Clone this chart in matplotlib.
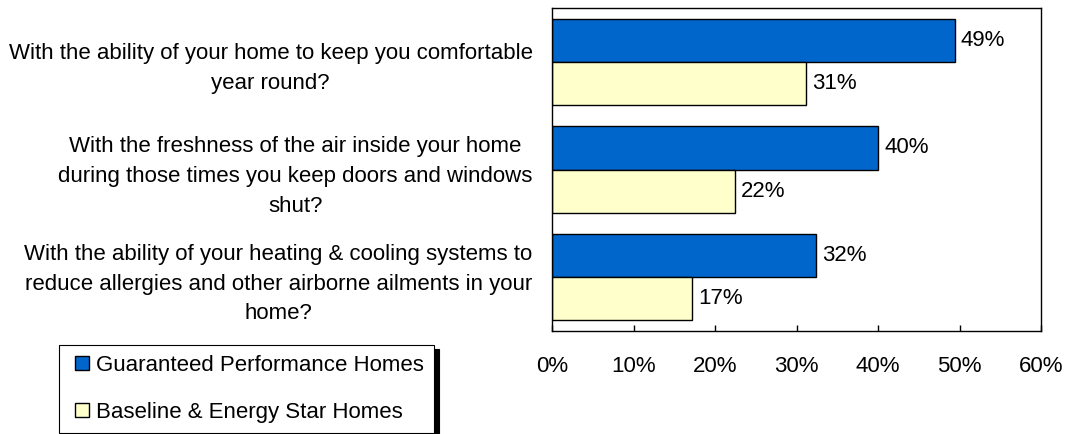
import matplotlib
matplotlib.use("Agg")
import numpy as np
import matplotlib.pyplot as plt
from matplotlib.lines import Line2D
from matplotlib.ticker import PercentFormatter

questions = [
    "With the ability of your home to keep you comfortable\nyear round?",
    "With the freshness of the air inside your home\nduring those times you keep doors and windows\nshut?",
    "With the ability of your heating & cooling systems to\nreduce allergies and other airborne ailments in your\nhome?",
]
series_names = ["Guaranteed Performance Homes", "Baseline & Energy Star Homes"]
guaranteed = [49.4, 40.0, 32.4]
baseline = [31.2, 22.4, 17.2]
x_ticks = [0, 10, 20, 30, 40, 50, 60]

blue = "#0066CC"
yellow = "#FFFFCC"

plt.rcParams["font.family"] = ["Liberation Sans", "DejaVu Sans"]
plt.rcParams["font.size"] = 16

fig = plt.figure(figsize=(10.79, 4.34), dpi=100)
ax = fig.add_axes([552 / 1079, 103 / 434, 489 / 1079, 323 / 434])

y = np.arange(len(questions))
h = 0.4
b1 = ax.barh(y - h / 2, guaranteed, height=h, color=blue, edgecolor="black", linewidth=1)
b2 = ax.barh(y + h / 2, baseline, height=h, color=yellow, edgecolor="black", linewidth=1)
ax.bar_label(b1, labels=[f"{v:.0f}%" for v in guaranteed], padding=4.5)
ax.bar_label(b2, labels=[f"{v:.0f}%" for v in baseline], padding=4.5)

ax.set_xlim(0, 60)
ax.set_ylim(len(questions) - 0.5, -0.5)
ax.set_xticks(x_ticks)
ax.xaxis.set_major_formatter(PercentFormatter(decimals=0))
ax.tick_params(axis="x", direction="in", length=4, width=1, pad=18, colors="black")
ax.set_yticks(y)
ax.set_yticklabels(questions)
ax.tick_params(axis="y", length=0, pad=14)
for t in ax.get_yticklabels():
    t.set_multialignment("center")
    t.set_linespacing(1.55)
for s in ax.spines.values():
    s.set_color("black")
    s.set_linewidth(1)

handles = [
    Line2D([], [], linestyle="none", marker="s", markersize=10,
           markerfacecolor=c, markeredgecolor="black", markeredgewidth=1)
    for c in (blue, yellow)
]
leg = fig.legend(handles, series_names, loc="upper left",
                 bbox_to_anchor=(59 / 1079, 1 - 345 / 434), borderaxespad=0,
                 fancybox=False, shadow={"color": "black", "alpha": 1, "ox": 3.6, "oy": -3},
                 edgecolor="black", framealpha=1,
                 handlelength=1.16, handletextpad=0.05,
                 labelspacing=1.15, borderpad=0.45)
leg.get_frame().set_linewidth(0.8)

fig.savefig("out.png", dpi=100)
